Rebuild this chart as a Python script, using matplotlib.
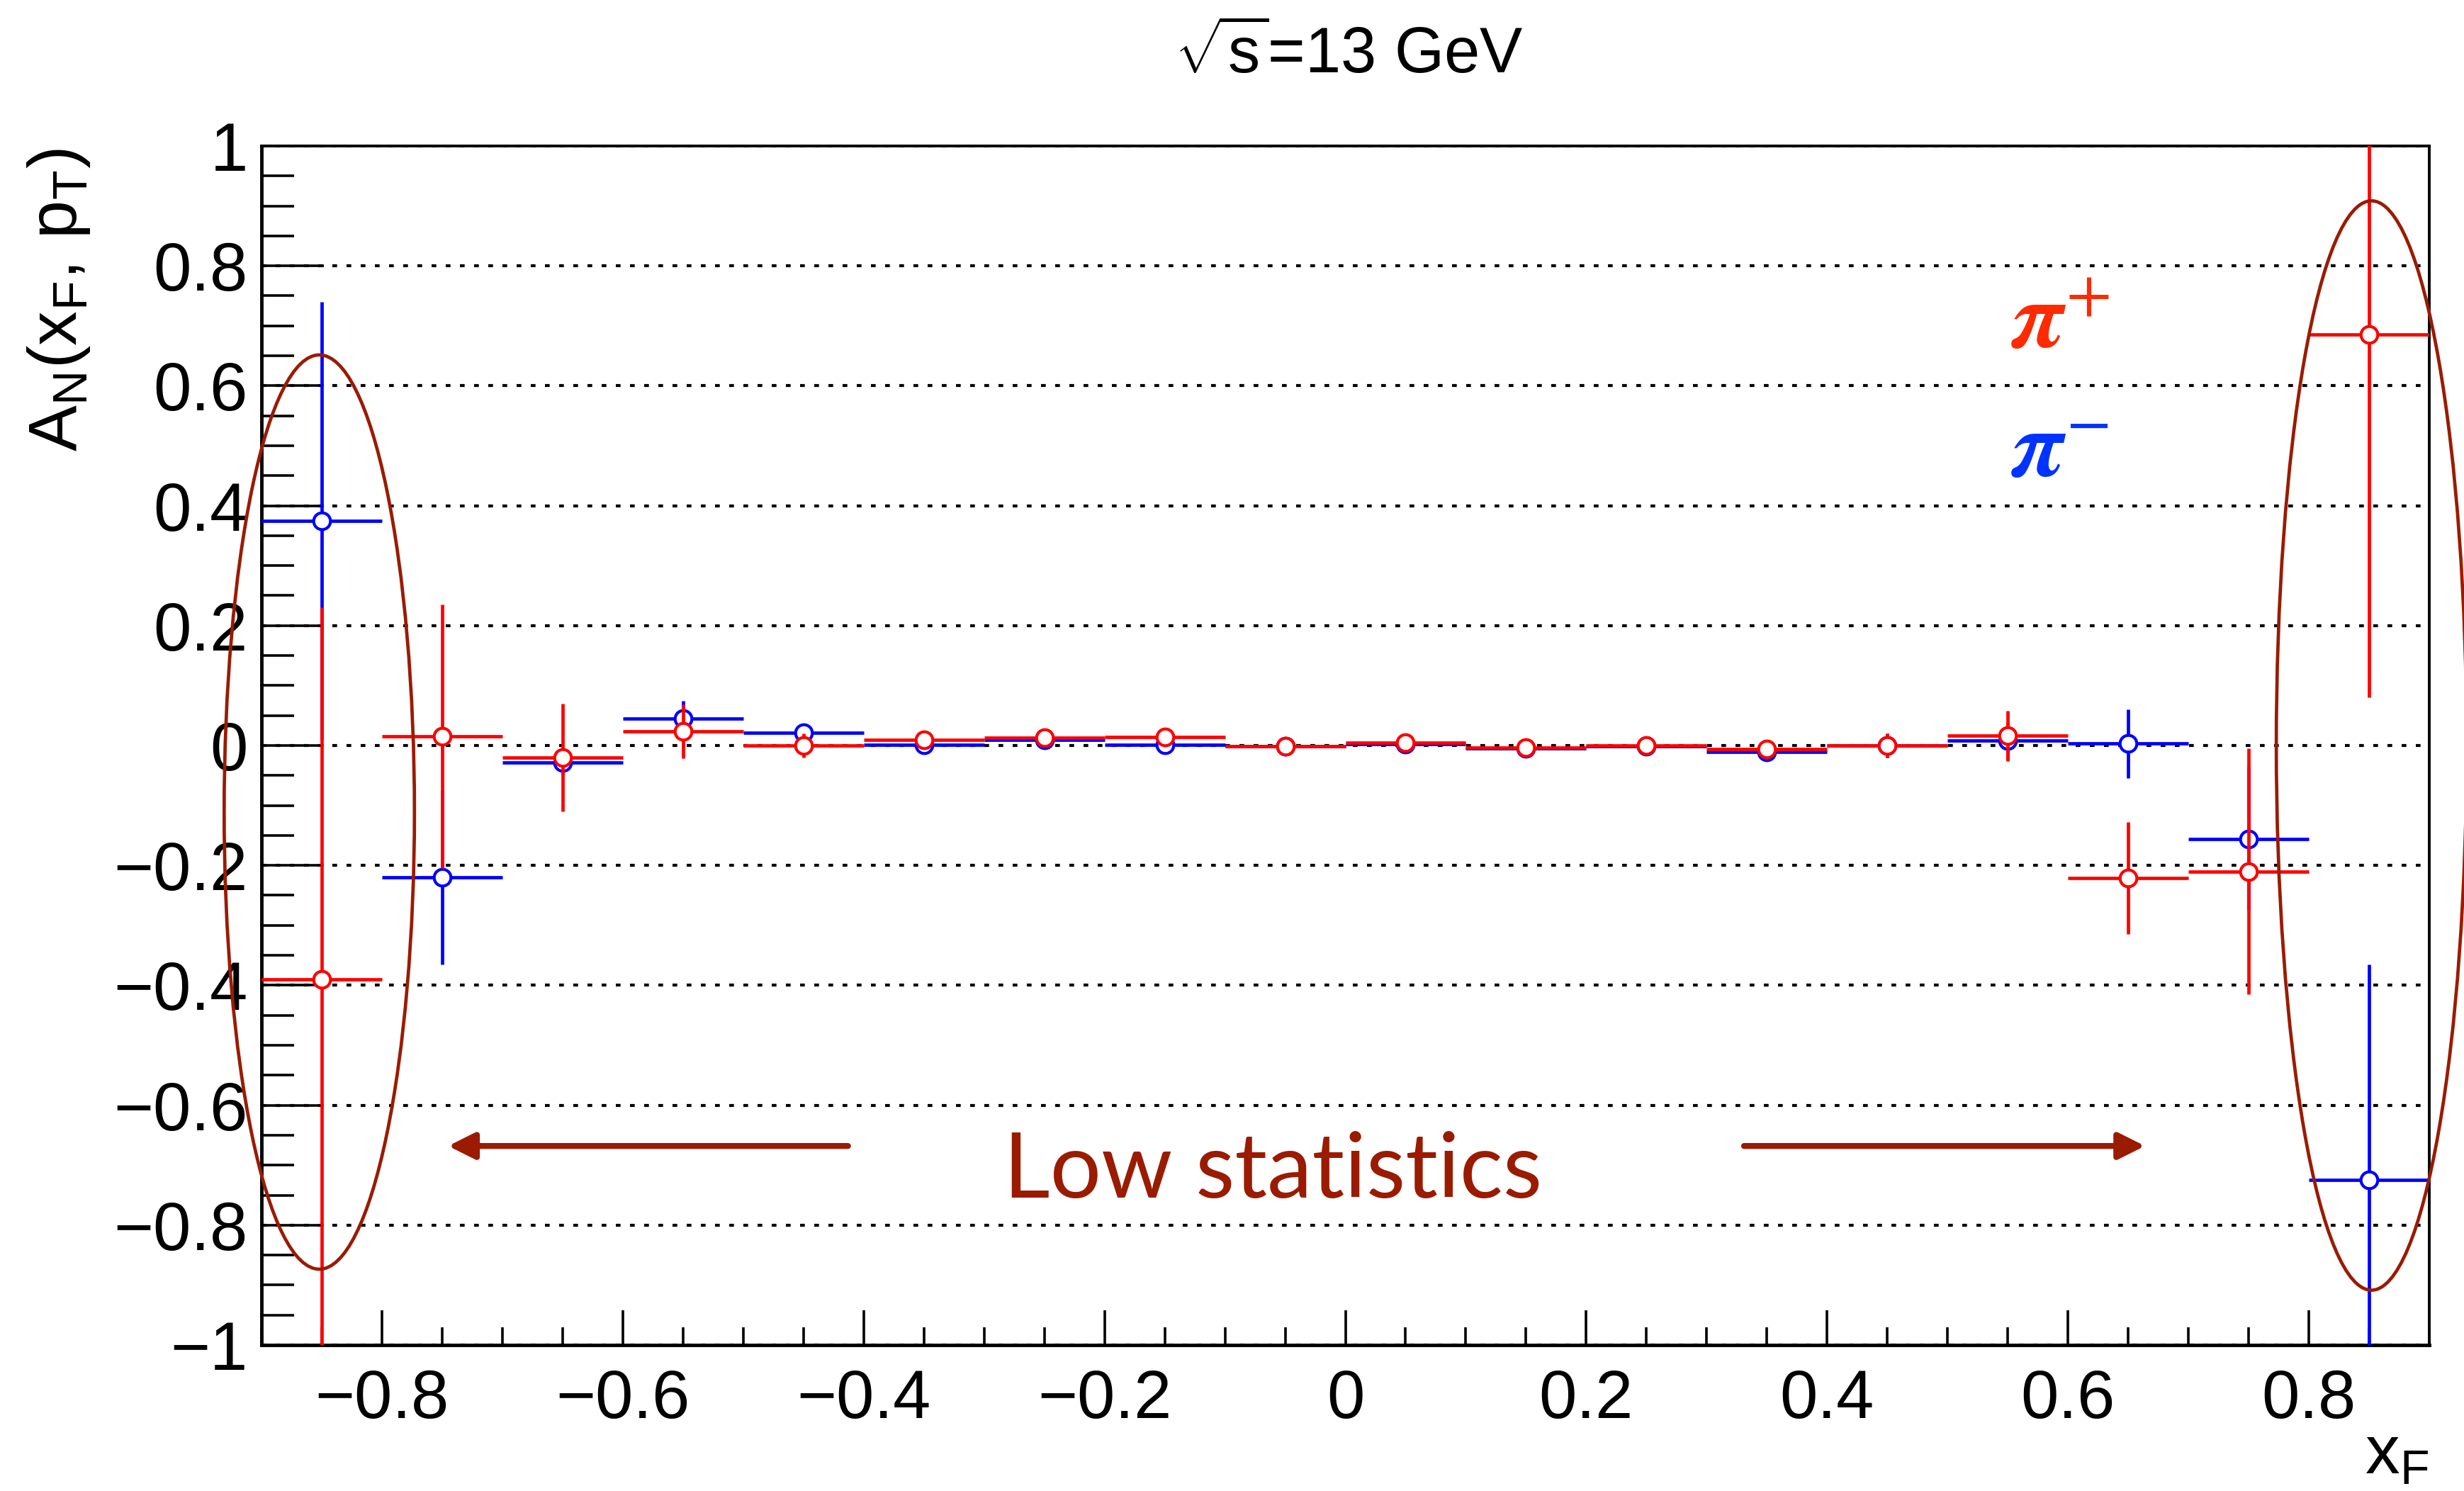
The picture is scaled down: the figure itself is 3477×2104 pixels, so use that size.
import matplotlib
matplotlib.use('Agg')
import matplotlib.pyplot as plt
from matplotlib.patches import Ellipse
from matplotlib.ticker import MultipleLocator, FuncFormatter

# x_F bin centres and half widths
xf = [-0.85, -0.75, -0.65, -0.55, -0.45, -0.35, -0.25, -0.15, -0.05,
      0.05, 0.15, 0.25, 0.35, 0.45, 0.55, 0.65, 0.75, 0.85]
xf_err = [0.05] * 18

# pi+ (red)
an_pip = [-0.39, 0.015, -0.02, 0.024, 0.0, 0.009, 0.013, 0.014, -0.001,
          0.005, -0.004, 0.0, -0.006, 0.0, 0.016, -0.221, -0.21, 0.685]
an_pip_err = [0.62, 0.22, 0.09, 0.045, 0.02, 0.01, 0.01, 0.01, 0.008,
              0.008, 0.008, 0.01, 0.012, 0.02, 0.042, 0.093, 0.205, 0.605]

# pi- (blue)
an_pim = [0.375, -0.22, -0.028, 0.045, 0.021, 0.001, 0.010, 0.001, -0.001,
          0.002, -0.005, -0.001, -0.011, 0.0, 0.008, 0.003, -0.156, -0.725]
an_pim_err = [0.365, 0.145, 0.02, 0.03, 0.01, 0.01, 0.01, 0.01, 0.008,
              0.008, 0.008, 0.01, 0.012, 0.02, 0.03, 0.057, 0.12, 0.36]

dark_red = '#9a1b00'

plt.rcParams['font.family'] = ['Liberation Sans', 'DejaVu Sans']
plt.rcParams['mathtext.fontset'] = 'custom'
plt.rcParams['mathtext.rm'] = 'Liberation Sans'
plt.rcParams['mathtext.it'] = 'Liberation Sans'
plt.rcParams['mathtext.bf'] = 'Liberation Sans'
plt.rcParams['axes.unicode_minus'] = True

fig = plt.figure(figsize=(34.77, 21.04), dpi=100)
ax = fig.add_axes([369 / 3477, 1 - 1898 / 2104, 3059 / 3477, 1692 / 2104])

ax.set_xlim(-0.9, 0.9)
ax.set_ylim(-1, 1)

ax.errorbar(xf, an_pim, xerr=xf_err, yerr=an_pim_err, fmt='o', color='#0000ff',
            mfc='white', mec='#0000ff', ms=17, mew=3, elinewidth=3.4, capsize=0, zorder=3)
ax.errorbar(xf, an_pip, xerr=xf_err, yerr=an_pip_err, fmt='o', color='#ff0000',
            mfc='white', mec='#ff0000', ms=17, mew=3, elinewidth=3.4, capsize=0, zorder=4)

# grid and ticks
ax.set_axisbelow(True)
ax.yaxis.grid(True, which='major', color='black', linestyle=(0, (1.6, 3.2)), lw=3)

ax.xaxis.set_major_locator(MultipleLocator(0.2))
ax.xaxis.set_minor_locator(MultipleLocator(0.05))
ax.yaxis.set_major_locator(MultipleLocator(0.2))
ax.yaxis.set_minor_locator(MultipleLocator(0.05))


def fmt(v, pos):
    v = round(v, 2)
    if v == 0:
        return '0'
    return f'{v:g}'.replace('-', '\u2212')


ax.xaxis.set_major_formatter(FuncFormatter(fmt))
ax.yaxis.set_major_formatter(FuncFormatter(fmt))

ax.tick_params(axis='both', which='both', direction='in', top=False, right=False, width=2.6)
ax.tick_params(axis='x', which='major', length=35, pad=24, labelsize=69)
ax.tick_params(axis='x', which='minor', length=18)
ax.tick_params(axis='y', which='major', length=63, pad=14, labelsize=69)
ax.tick_params(axis='y', which='minor', length=33)

for side in ['left', 'bottom']:
    ax.spines[side].set_linewidth(3.5)
for side in ['top', 'right']:
    ax.spines[side].set_linewidth(2.8)

# titles
fig.text(1903 / 3477, 1 - 103 / 2104, r'$\sqrt{\mathrm{s}}$=13 GeV', ha='center', va='baseline', fontsize=65)
fig.text(108 / 3477, 1 - 209 / 2104, r'$\mathrm{A_{N}(x_{F},\,p_{T})}$', rotation=90,
         rotation_mode='anchor', ha='right', va='baseline', fontsize=70)
fig.text(3427 / 3477, 1 - 2080 / 2104, r'$\mathrm{x_{F}}$', ha='right', va='baseline', fontsize=70)

# legend-like labels
ax.text(0.553, 0.662, r'$\boldsymbol{\pi}^{+}$', color='#ff2a00', fontsize=96, math_fontfamily='stix',
        ha='left', va='baseline', zorder=6)
ax.text(0.553, 0.449, r'$\boldsymbol{\pi}^{-}$', color='#0033ff', fontsize=96, math_fontfamily='stix',
        ha='left', va='baseline', zorder=6)

# low statistics annotation
for cx, cy, w, h in [(-0.852, -0.111, 0.158, 1.525), (0.852, 0.0, 0.158, 1.817)]:
    ax.add_patch(Ellipse((cx, cy), w, h, fill=False, edgecolor=dark_red, lw=3.4,
                         clip_on=False, zorder=5))

arrow = dict(arrowstyle='-|>,head_length=0.9,head_width=0.45', color=dark_red, lw=6,
             shrinkA=0, shrinkB=0, mutation_scale=25)
ax.annotate('', xy=(-0.745, -0.668), xytext=(-0.413, -0.668), arrowprops=arrow)
ax.annotate('', xy=(0.664, -0.668), xytext=(0.331, -0.668), arrowprops=arrow)

ax.text(-0.06, -0.754, 'Low statistics', color=dark_red, fontsize=92, fontweight='normal',
        family=['Lato', 'DejaVu Sans'], ha='center', va='baseline', zorder=6)

fig.savefig('out.png', dpi=100)
